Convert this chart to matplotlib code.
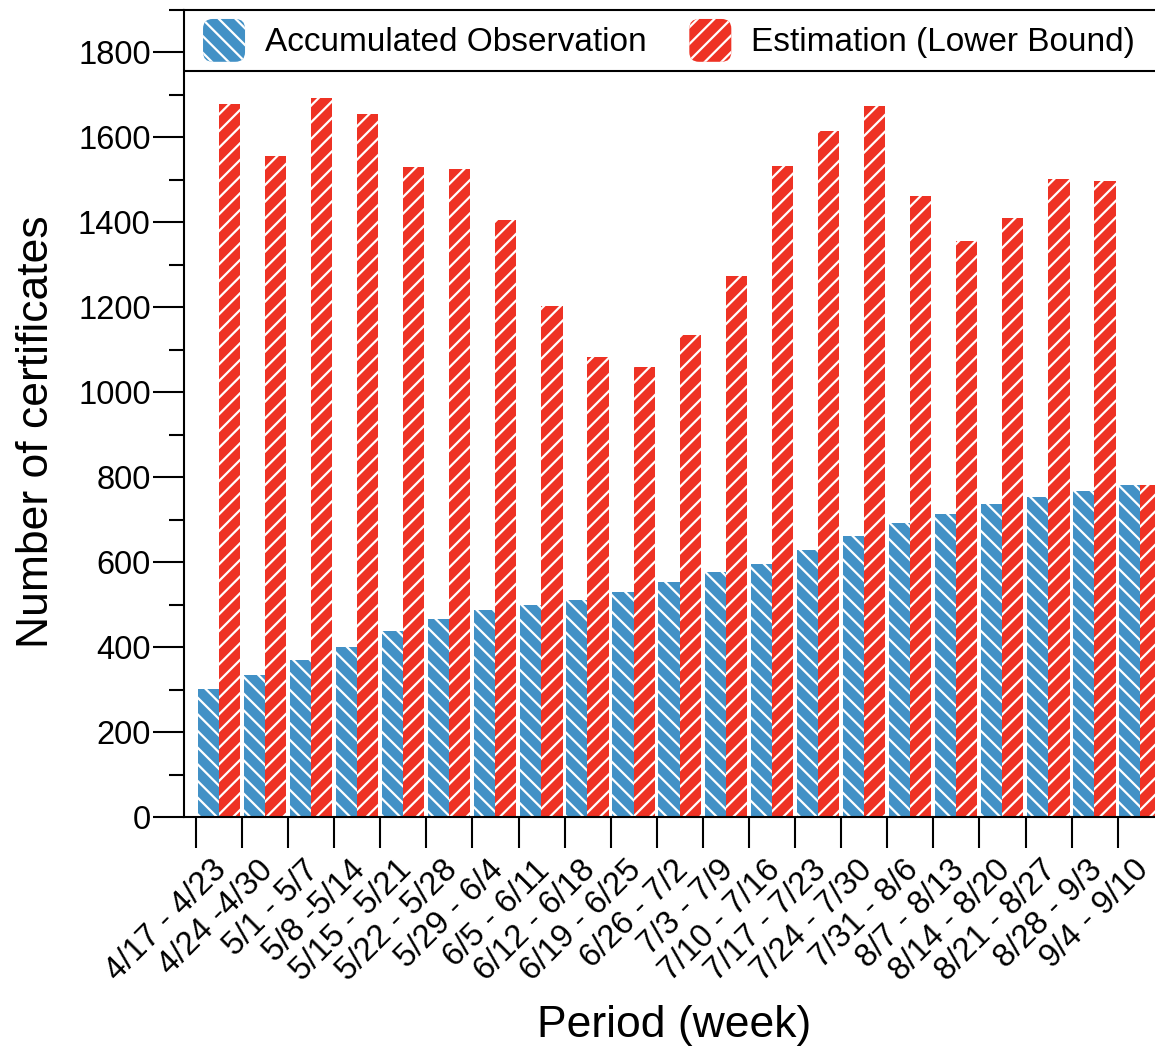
import numpy as np
import matplotlib
matplotlib.use("Agg")
import matplotlib.pyplot as plt
from matplotlib.patches import FancyBboxPatch, Patch
from matplotlib.legend_handler import HandlerPatch

periods = ["4/17 - 4/23", "4/24 -4/30", "5/1 - 5/7", "5/8 -5/14", "5/15 - 5/21",
           "5/22 - 5/28", "5/29 - 6/4", "6/5 - 6/11", "6/12 - 6/18", "6/19 - 6/25",
           "6/26 - 7/2", "7/3 - 7/9", "7/10 - 7/16", "7/17 - 7/23", "7/24 - 7/30",
           "7/31 - 8/6", "8/7 - 8/13", "8/14 - 8/20", "8/21 - 8/27", "8/28 - 9/3",
           "9/4 - 9/10"]
observed = [302, 334, 369, 400, 437, 465, 487, 498, 510, 529, 553,
            578, 595, 628, 661, 692, 713, 736, 753, 767, 781]
estimated = [1679, 1557, 1693, 1655, 1530, 1525, 1405, 1204, 1083, 1059, 1134,
             1273, 1532, 1615, 1674, 1462, 1356, 1410, 1502, 1497, 781]

BLUE = "#4291c6"
RED = "#ee3224"

plt.rcParams['font.family'] = ['Liberation Sans', 'DejaVu Sans']
plt.rcParams['hatch.linewidth'] = 1.6

fig = plt.figure(figsize=(11.55, 10.49), dpi=100)
ax = fig.add_axes([184 / 1155, 1 - 817 / 1049, (1155 - 184) / 1155, (817 - 10) / 1049])

x = np.arange(len(periods))
w = 0.46
ax.bar(x + 0.035, observed, w, align='edge', color=BLUE, edgecolor='white',
       linewidth=0, hatch='\\\\', label='Accumulated Observation')
ax.bar(x + 0.035 + w, estimated, w, align='edge', color=RED, edgecolor='white',
       linewidth=0, hatch='//', label='Estimation (Lower Bound)')

ax.set_xlim(-0.26, 20.81)
ax.set_ylim(0, 1900)

# y axis ticks
ax.set_yticks(np.arange(0, 1801, 200))
ax.set_yticks(np.arange(100, 1901, 200), minor=True)
ax.tick_params(axis='y', which='major', length=22, width=1.5, pad=2, labelsize=23.5)
ax.tick_params(axis='y', which='minor', length=11, width=1.5)

# x ticks: marks at group edges, labels near group centres
ax.set_xticks(x)
ax.set_xticklabels([])
ax.set_xticks(x + 0.33, minor=True)
ax.set_xticklabels(periods, minor=True, rotation=45, ha='right', va='top',
                   rotation_mode='anchor')
ax.tick_params(axis='x', which='major', length=22, width=1.5)
ax.tick_params(axis='x', which='minor', length=0, pad=27, labelsize=23.5)

for s in ['left', 'bottom', 'top']:
    ax.spines[s].set_linewidth(1.5)
ax.spines['right'].set_visible(False)

ax.set_ylabel('Number of certificates', fontsize=32)
ax.yaxis.set_label_coords(-0.131, 0.477)
ax.set_xlabel('Period (week)', fontsize=32)
ax.xaxis.set_label_coords(0.5046, -0.258)
ax.xaxis.label.set_va('center')

# bottom line of the legend band
ax.axhline(1757, color='black', linewidth=1.5)


def rounded(legend, orig_handle, xdescent, ydescent, width, height, fontsize):
    return FancyBboxPatch((-xdescent, -ydescent), width, height,
                          boxstyle='round,pad=0,rounding_size=7')


handles = [Patch(facecolor=BLUE, edgecolor='white', linewidth=0, hatch='\\\\'),
           Patch(facecolor=RED, edgecolor='white', linewidth=0, hatch='//')]
leg = ax.legend(handles, ['Accumulated Observation', 'Estimation (Lower Bound)'],
                loc='center', bbox_to_anchor=(0.0196, 0.9247, 0.96, 0.0753),
                mode='expand', ncol=2, borderaxespad=0, borderpad=0, fontsize=24,
                handlelength=1.26, handleheight=1.6, handletextpad=0.6,
                frameon=False,
                handler_map={Patch: HandlerPatch(patch_func=rounded)})

plt.savefig("out.png", dpi=100)
